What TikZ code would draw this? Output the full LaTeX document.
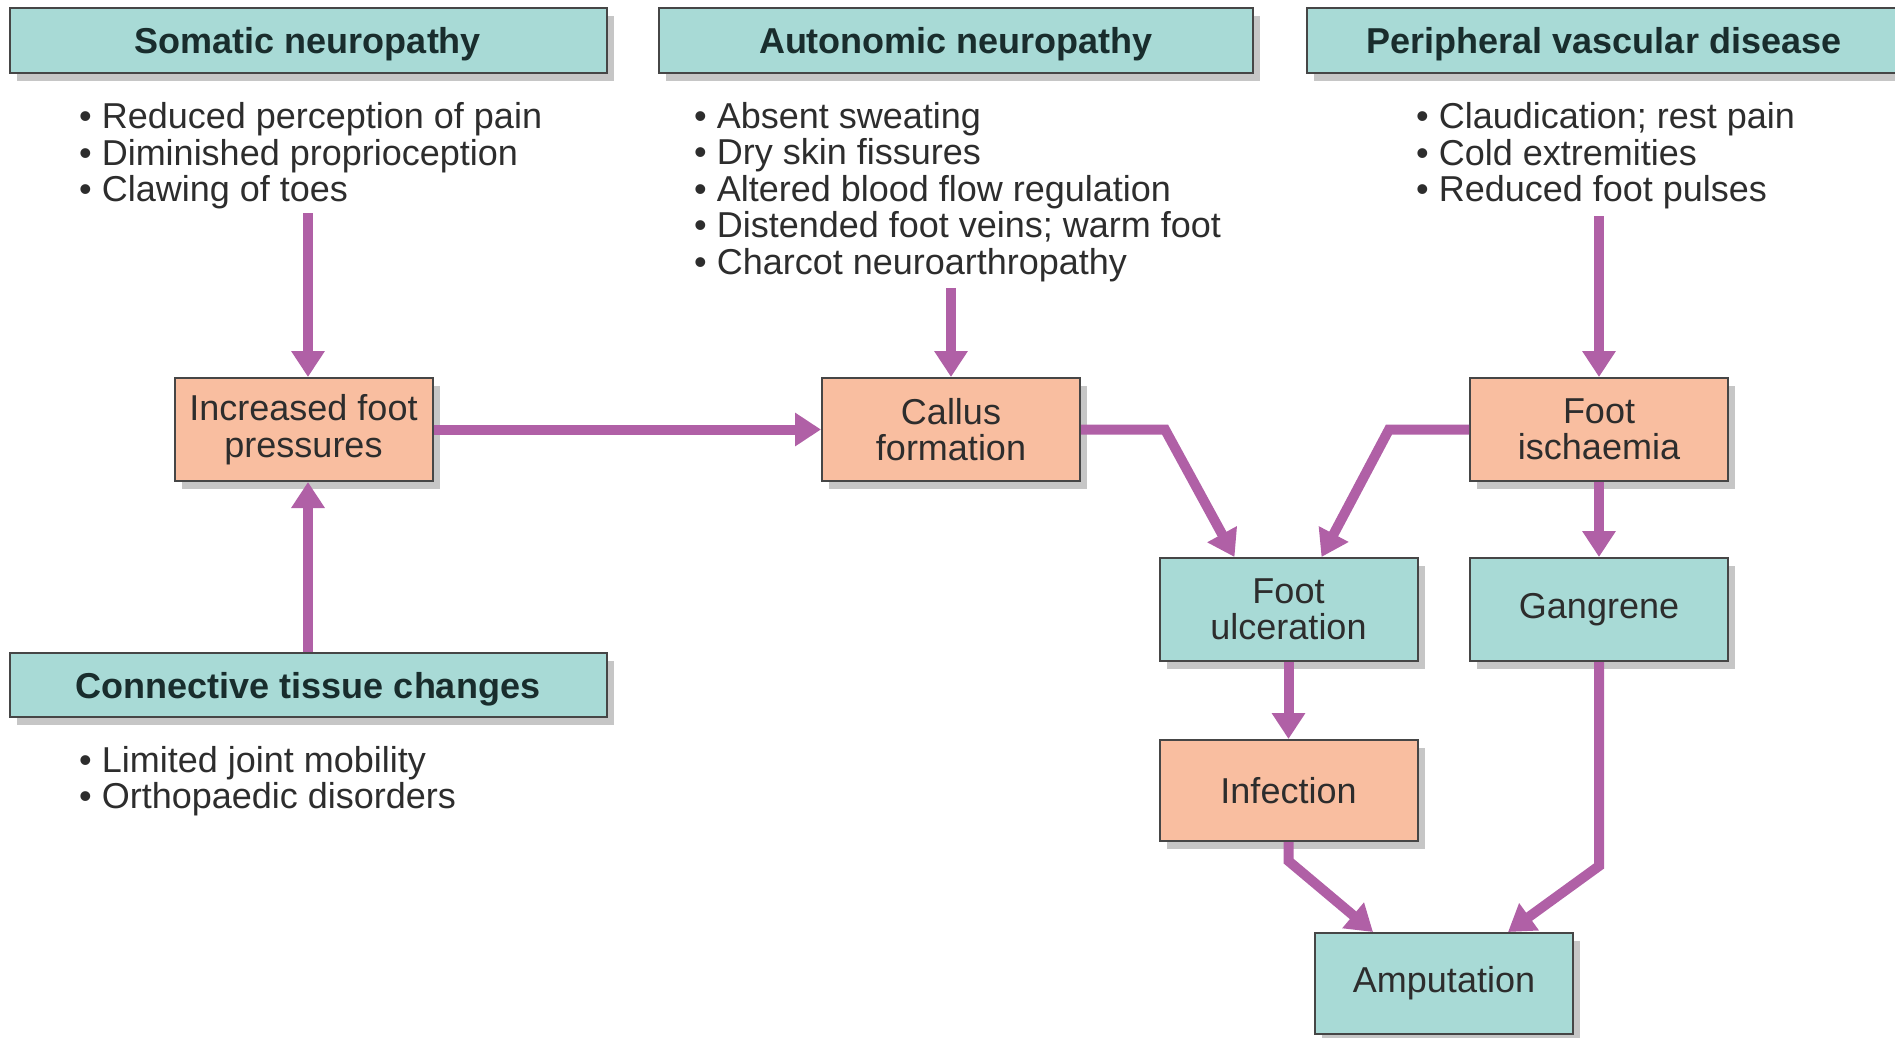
\documentclass[tikz,border=0pt]{standalone}
\usepackage{fontspec}
\setmainfont{Liberation Sans}
\usetikzlibrary{arrows.meta,shadows}

\definecolor{boxteal}{RGB}{168,218,214}
\definecolor{boxorange}{RGB}{249,190,160}
\definecolor{flowpurple}{RGB}{176,96,166}
\definecolor{boxedge}{RGB}{70,70,70}
\definecolor{listgray}{RGB}{45,45,45}
\definecolor{headtext}{RGB}{25,45,45}

\begin{document}
\begin{tikzpicture}[x=1pt,y=-1pt,
    font=\fontsize{36}{36.5}\selectfont,
    box/.style={draw=boxedge,line width=2pt,align=center,inner sep=0pt,
      drop shadow={shadow xshift=7pt,shadow yshift=-8pt,fill=gray,opacity=.45}},
    head/.style={box,fill=boxteal,minimum width=597pt,minimum height=65pt,
      text depth=0pt,text=headtext,font=\fontsize{36}{36.5}\selectfont\bfseries},
    stage/.style={box,minimum width=258pt,minimum height=103pt,text=listgray},
    list/.style={anchor=west,align=left,inner sep=0pt,text=listgray},
    flow/.style={draw=flowpurple,line width=10pt,
      -{Triangle[width=32pt,length=26pt]}}]
  \useasboundingbox (0,0) rectangle (1895,1037);

  % Causes
  \node[head] (somatic) at (308,40) {Somatic neuropathy};
  \node[head,minimum width=594pt] (autonomic) at (956,40) {Autonomic neuropathy};
  \node[head,minimum width=595pt] (peripheral) at (1604,40) {Peripheral vascular disease};
  \node[head,minimum height=64pt] (connective) at (308,685) {Connective tissue changes};

  \node[list] (somlist) at (79,156) {\textbullet\hspace{10pt}Reduced perception of pain\\
    \textbullet\hspace{10pt}Diminished proprioception\\
    \textbullet\hspace{10pt}Clawing of toes};
  \node[list] (autlist) at (694,192) {\textbullet\hspace{10pt}Absent sweating\\
    \textbullet\hspace{10pt}Dry skin fissures\\
    \textbullet\hspace{10pt}Altered blood flow regulation\\
    \textbullet\hspace{10pt}Distended foot veins; warm foot\\
    \textbullet\hspace{10pt}Charcot neuroarthropathy};
  \node[list] (perlist) at (1416,156) {\textbullet\hspace{10pt}Claudication; rest pain\\
    \textbullet\hspace{10pt}Cold extremities\\
    \textbullet\hspace{10pt}Reduced foot pulses};
  \node[list] (conlist) at (79,781) {\textbullet\hspace{10pt}Limited joint mobility\\
    \textbullet\hspace{10pt}Orthopaedic disorders};

  % Stages
  \node[stage,fill=boxorange] (pressures) at (303.5,429.5) {Increased foot\\pressures};
  \node[stage,fill=boxorange] (callus) at (951,429.5) {Callus\\formation};
  \node[stage,fill=boxorange] (ischaemia) at (1599,429.5) {Foot\\ischaemia};
  \node[stage,fill=boxteal] (ulceration) at (1288.5,609.5) {Foot\\ulceration};
  \node[stage,fill=boxteal] (gangrene) at (1599,609.5) {Gangrene};
  \node[stage,fill=boxorange,minimum height=101pt] (infection) at (1288.5,790.5) {Infection};
  \node[stage,fill=boxteal,minimum height=101pt] (amputation) at (1444,983.5) {Amputation};

  % Arrows
  \draw[flow] ([yshift=-4pt]somlist.south -| somatic) -- (somatic |- pressures.north);
  \draw[flow] (connective.north) -- (connective |- pressures.south);
  \draw[flow] (pressures.east) -- (callus.west);
  \draw[flow] ([yshift=-6pt]autlist.south -| callus) -- (callus.north);
  \draw[flow] ([yshift=-7pt]perlist.south -| ischaemia) -- (ischaemia.north);
  \draw[flow] (callus.east) -- ++(84,0) -- ([xshift=76pt]ulceration.north west);
  \draw[flow] (ischaemia.west) -- ++(-80,0) -- ([xshift=-97pt]ulceration.north east);
  \draw[flow] (ischaemia.south) -- (gangrene.north);
  \draw[flow] (ulceration.south) -- (infection.north);
  \draw[flow] (infection.south) -- ++(0,19) -- ([xshift=59pt]amputation.north west);
  \draw[flow] (gangrene.south) -- ++(0,204) -- ([xshift=-66pt]amputation.north east);
\end{tikzpicture}
\end{document}
